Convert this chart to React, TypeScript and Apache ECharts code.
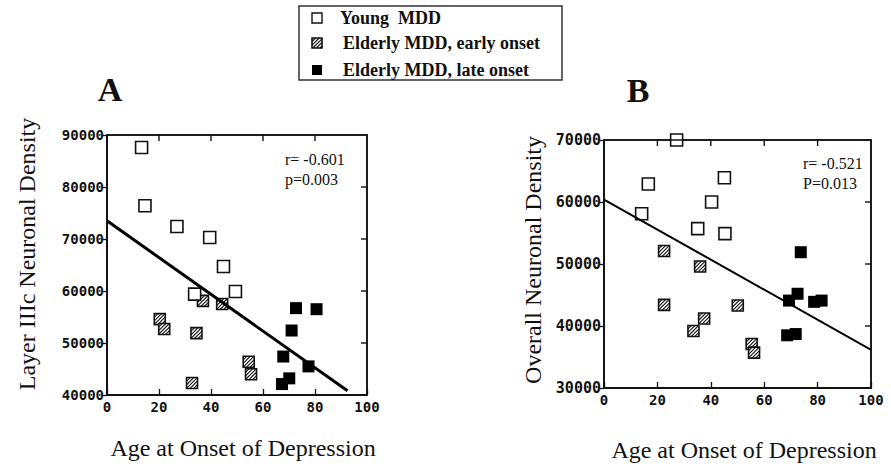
import React, { useEffect, useRef } from "react";
import * as echarts from "echarts";

// ---- Data ----
const legendLabels = ["Young  MDD", "Elderly MDD, early onset", "Elderly MDD, late onset"];
const xTitle = "Age at Onset of Depression";
const yTitleA = "Layer IIIc Neuronal Density";
const yTitleB = "Overall Neuronal Density";
const statsA = ["r= -0.601", "p=0.003"];
const statsB = ["r= -0.521", "P=0.013"];

// axis ranges & tick values
const xRange = [0, 100];
const yRangeA = [40000, 90000];
const yRangeB = [30000, 70000];
const xTickVals = [0, 20, 40, 60, 80, 100];
const yTickValsA = [40000, 50000, 60000, 70000, 80000, 90000];
const yTickValsB = [30000, 40000, 50000, 60000, 70000];

// Panel A
const youngAx = [13.3, 14.6, 26.9, 39.5, 44.8, 49.4, 33.7];
const youngAy = [87600, 76400, 72400, 70300, 64700, 59900, 59400];
const earlyAx = [36.9, 44.3, 20.3, 22.0, 34.4, 54.5, 55.4, 32.7];
const earlyAy = [58100, 57500, 54600, 52700, 51900, 46400, 44000, 42300];
const lateAx = [72.7, 80.6, 71.0, 67.8, 77.5, 70.1, 67.3];
const lateAy = [56700, 56500, 52400, 47400, 45500, 43200, 42100];
const fitAx = [0, 92.5];
const fitAy = [73500, 40800];

// Panel B
const youngBx = [27.2, 16.6, 14.1, 45.1, 40.3, 35.1, 45.3];
const youngBy = [70000, 62900, 58100, 63900, 60000, 55700, 54900];
const earlyBx = [22.5, 36.0, 22.5, 50.1, 37.5, 33.5, 55.3, 56.2];
const earlyBy = [52100, 49600, 43400, 43300, 41200, 39200, 37100, 35700];
const lateBx = [73.7, 72.5, 69.3, 78.7, 81.5, 68.6, 71.8];
const lateBy = [51900, 45200, 44100, 43900, 44100, 38500, 38700];
const fitBx = [0, 101.5];
const fitBy = [60400, 35800];

const zip = (xs: number[], ys: number[]) => xs.map((x, i) => [x, ys[i]]);

const SERIF = "'Liberation Serif', 'Times New Roman', serif";
const MONO = "'DejaVu Sans Mono', monospace";
const INK = "#111";

function hatchLines(x0: number, y0: number, s: number, step: number) {
  const out: any[] = [];
  for (let t = step; t < 2 * s - 0.5; t += step) {
    let shape;
    if (t <= s) shape = { x1: x0, y1: y0 + t, x2: x0 + t, y2: y0 };
    else shape = { x1: x0 + t - s, y1: y0 + s, x2: x0 + s, y2: y0 + t - s };
    out.push({ type: "line", shape, style: { stroke: INK, lineWidth: 1.1 } });
  }
  return out;
}

function hatchedSquare(cx: number, cy: number, s: number) {
  const x0 = cx - s / 2;
  const y0 = cy - s / 2;
  return [
    { type: "rect", shape: { x: x0, y: y0, width: s, height: s }, style: { fill: "#fff", stroke: "none" } },
    ...hatchLines(x0, y0, s, 3.6),
    { type: "rect", shape: { x: x0, y: y0, width: s, height: s }, style: { fill: "none", stroke: INK, lineWidth: 1.6 } },
  ];
}

const plainLabel = (v: number) => String(v);

function xAxisFor(grid: number) {
  return {
    gridIndex: grid, type: "value", min: xRange[0], max: xRange[1], interval: 20, position: "bottom",
    splitLine: { show: false },
    axisLine: { show: true, onZero: false, lineStyle: { color: INK, width: 1.5 } },
    axisTick: { show: true, inside: true, length: 6, lineStyle: { color: INK, width: 1.3 } },
    axisLabel: { show: true, margin: 5, color: INK, fontFamily: MONO, fontWeight: "bold", fontSize: 14, formatter: plainLabel },
  };
}
function yAxisFor(grid: number, range: number[], size: number) {
  return {
    gridIndex: grid, type: "value", min: range[0], max: range[1], interval: 10000, position: "left",
    splitLine: { show: false },
    axisLine: { show: true, onZero: false, lineStyle: { color: INK, width: 1.5 } },
    axisTick: { show: true, inside: false, length: 4, lineStyle: { color: INK, width: 1.3 } },
    axisLabel: { show: true, margin: 3, color: INK, fontFamily: MONO, fontWeight: "bold", fontSize: size, formatter: plainLabel },
  };
}

function textEl(text: string, x: number, y: number, size: number, opts: any = {}) {
  return {
    type: "text",
    x,
    y,
    rotation: opts.rotation || 0,
    style: {
      text,
      fill: opts.fill || INK,
      fontSize: size,
      fontFamily: opts.family || SERIF,
      fontWeight: opts.weight || "normal",
      align: opts.align || "left",
      verticalAlign: "middle",
      textAlign: opts.align || "left",
      textVerticalAlign: "middle",
    },
  };
}

// frame + mirrored ticks, positioned through the chart's own scales
function frameEls(chart: any, idx: number, yRange: number[], yTicks: number[]) {
  const finder = { xAxisIndex: idx, yAxisIndex: idx };
  const bl = chart.convertToPixel(finder, [xRange[0], yRange[0]]);
  const tr = chart.convertToPixel(finder, [xRange[1], yRange[1]]);
  if (!bl || !tr) return [];
  const st = { stroke: INK, lineWidth: 1.4 };
  const els: any[] = [
    { type: "rect", z: 50, shape: { x: bl[0], y: tr[1], width: tr[0] - bl[0], height: bl[1] - tr[1] }, style: { fill: "none", stroke: INK, lineWidth: 1.5 } },
  ];
  xTickVals.forEach((v) => {
    if (v === xRange[0] || v === xRange[1]) return;
    const p = chart.convertToPixel(finder, [v, yRange[0]]);
    els.push({ type: "line", z: 50, shape: { x1: p[0], y1: tr[1], x2: p[0], y2: tr[1] + 6 }, style: st });
  });
  yTicks.forEach((v) => {
    if (v === yRange[0] || v === yRange[1]) return;
    const p = chart.convertToPixel(finder, [xRange[0], v]);
    els.push({ type: "line", z: 50, shape: { x1: tr[0], y1: p[1], x2: tr[0] - 6, y2: p[1] }, style: st });
  });
  return els;
}

export default function App() {
  const ref = useRef<HTMLDivElement>(null);
  useEffect(() => {
    if (!ref.current) return;
    const chart = echarts.init(ref.current, null, { renderer: "svg" });

    const hatchRender = (params: any, api: any) => {
      const pt = api.coord([api.value(0), api.value(1)]);
      return { type: "group", children: hatchedSquare(pt[0], pt[1], 11) };
    };

    const openStyle = { color: "#fff", borderColor: INK, borderWidth: 1.6, opacity: 1 };
    const fillStyle = { color: "#000", borderColor: "#000", borderWidth: 0, opacity: 1 };

    // legend graphic
    const legendRowsY = [18, 43, 70];
    const sx = 312;
    const ss = 10;
    const legendEls: any[] = [
      { type: "rect", shape: { x: 299, y: 6, width: 263, height: 74 }, style: { fill: "#fff", stroke: "#333", lineWidth: 1.5 } },
      { type: "rect", shape: { x: sx, y: legendRowsY[0] - ss / 2, width: ss, height: ss }, style: { fill: "#fff", stroke: INK, lineWidth: 1.4 } },
      { type: "group", children: hatchedSquare(sx + ss / 2, legendRowsY[1], ss) },
      { type: "rect", shape: { x: sx, y: legendRowsY[2] - ss / 2, width: ss, height: ss }, style: { fill: "#000" } },
      textEl(legendLabels[0], 340, legendRowsY[0], 18, { weight: "bold" }),
      textEl(legendLabels[1], 343, legendRowsY[1], 18, { weight: "bold" }),
      textEl(legendLabels[2], 343, legendRowsY[2], 18, { weight: "bold" }),
    ];

    const textEls: any[] = [
      textEl("A", 110, 89, 34, { weight: "bold", align: "center" }),
      textEl("B", 638, 90, 34, { weight: "bold", align: "center" }),
      textEl(statsA[0], 285, 159, 16),
      textEl(statsA[1], 285, 179, 16),
      textEl(statsB[0], 803, 163, 16),
      textEl(statsB[1], 803, 183, 16),
      textEl(xTitle, 243, 448, 24, { align: "center" }),
      textEl(xTitle, 744, 450, 24, { align: "center" }),
      textEl(yTitleA, 27, 254, 24, { align: "center", rotation: Math.PI / 2 }),
      textEl(yTitleB, 533, 260, 24, { align: "center", rotation: Math.PI / 2 }),
    ];

    const option: any = {
      animation: false,
      grid: [
        { left: 107, top: 135, width: 260, height: 260, show: true, borderColor: INK, borderWidth: 1.5, backgroundColor: "rgba(0,0,0,0)" },
        { left: 604, top: 140, width: 267, height: 248, show: true, borderColor: INK, borderWidth: 1.5, backgroundColor: "rgba(0,0,0,0)" },
      ],
      xAxis: [xAxisFor(0), xAxisFor(1)],
      yAxis: [yAxisFor(0, yRangeA, 14), yAxisFor(1, yRangeB, 15)],
      series: [
        { type: "scatter", xAxisIndex: 0, yAxisIndex: 0, symbol: "rect", symbolSize: 12, itemStyle: openStyle, data: zip(youngAx, youngAy), z: 3 },
        { type: "custom", xAxisIndex: 0, yAxisIndex: 0, renderItem: hatchRender, data: zip(earlyAx, earlyAy), z: 3 },
        { type: "scatter", xAxisIndex: 0, yAxisIndex: 0, symbol: "rect", symbolSize: 12, itemStyle: fillStyle, data: zip(lateAx, lateAy), z: 3 },
        { type: "line", xAxisIndex: 0, yAxisIndex: 0, symbol: "none", lineStyle: { color: "#000", width: 3 }, data: zip(fitAx, fitAy), z: 5 },
        { type: "scatter", xAxisIndex: 1, yAxisIndex: 1, symbol: "rect", symbolSize: 12, itemStyle: openStyle, data: zip(youngBx, youngBy), z: 3 },
        { type: "custom", xAxisIndex: 1, yAxisIndex: 1, renderItem: hatchRender, data: zip(earlyBx, earlyBy), z: 3 },
        { type: "scatter", xAxisIndex: 1, yAxisIndex: 1, symbol: "rect", symbolSize: 12, itemStyle: fillStyle, data: zip(lateBx, lateBy), z: 3 },
        { type: "line", xAxisIndex: 1, yAxisIndex: 1, symbol: "none", clip: false, lineStyle: { color: "#000", width: 2 }, data: zip(fitBx, fitBy), z: 5 },
      ],
      graphic: [...legendEls, ...textEls],
    };
    chart.setOption(option);

    let frames: any[] = [];
    try {
      frames = [...frameEls(chart, 0, yRangeA, yTickValsA), ...frameEls(chart, 1, yRangeB, yTickValsB)];
    } catch (e) {
      frames = [];
    }
    if (frames.length) chart.setOption({ graphic: [...legendEls, ...textEls, ...frames] });
    return () => chart.dispose();
  }, []);
  return <div ref={ref} style={{ position: "fixed", left: 0, top: 0, width: 891, height: 464, background: "#fff" }} />;
}
